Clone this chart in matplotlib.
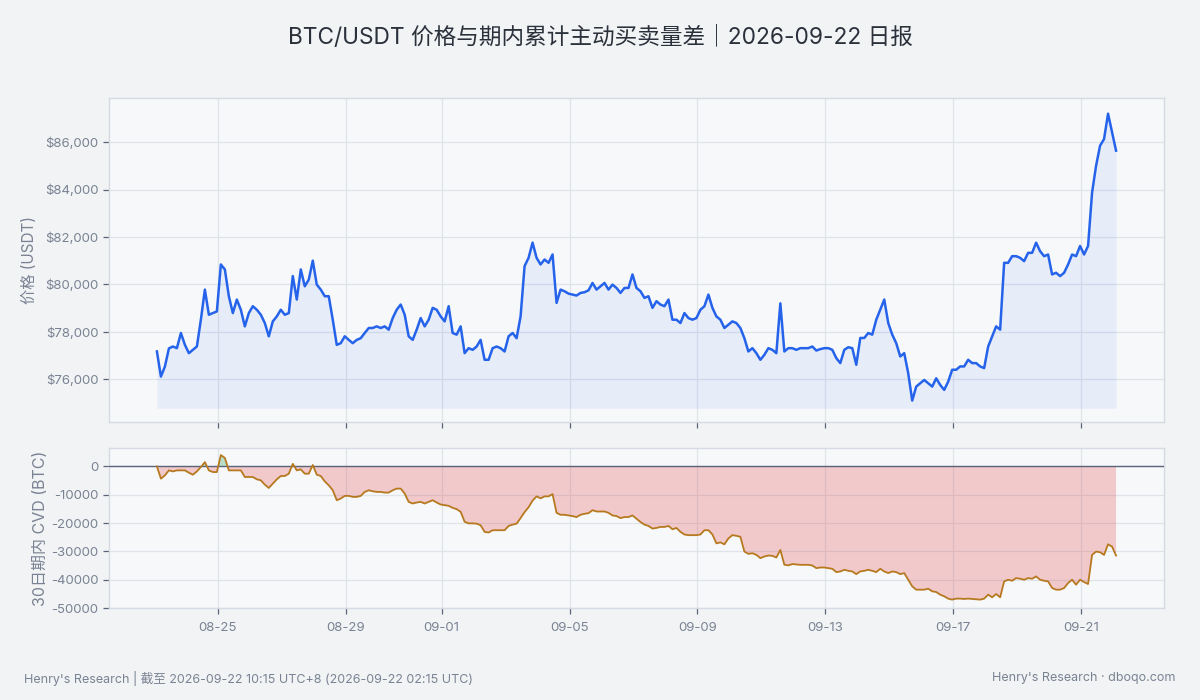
import numpy as np
import pandas as pd
import matplotlib
matplotlib.use("Agg")
import matplotlib.pyplot as plt
import matplotlib.dates as mdates
from matplotlib.ticker import FuncFormatter, FixedLocator

plt.rcParams['font.family'] = ['Inter', 'Noto Sans CJK SC', 'DejaVu Sans']
plt.rcParams['axes.unicode_minus'] = False

# ---------------- data (3-hour samples) ----------------
start_time = "2026-08-23 02:15"
step_hours = 3

price = [
    77171, 76113, 76536, 77300, 77380, 77310, 77950, 77450, 77100, 77240,
    77380, 78510, 79780, 78720, 78790, 78860, 80840, 80630, 79500, 78790,
    79360, 78930, 78230, 78790, 79080, 78930, 78720, 78370, 77810, 78440,
    78650, 78930, 78720, 78790, 80350, 79360, 80630, 79920, 80200, 81000,
    79990, 79780, 79500, 79500, 78510, 77450, 77520, 77810, 77660, 77520,
    77660, 77730, 77950, 78160, 78160, 78230, 78160, 78230, 78090, 78580,
    78930, 79150, 78720, 77810, 77660, 78090, 78580, 78230, 78510, 79010,
    78930, 78650, 78440, 79080, 77950, 77880, 78230, 77100, 77310, 77240,
    77380, 77660, 76820, 76820, 77310, 77380, 77310, 77170, 77810, 77950,
    77730, 78650, 80770, 81120, 81760, 81120, 80840, 81050, 80910, 81260,
    79220, 79780, 79710, 79610, 79570, 79530, 79640, 79670, 79750, 80060,
    79780, 79920, 80060, 79780, 79990, 79850, 79640, 79850, 79850, 80420,
    79850, 79710, 79430, 79500, 79010, 79290, 79150, 79080, 79360, 78510,
    78510, 78370, 78790, 78580, 78510, 78580, 78930, 79080, 79570, 79010,
    78650, 78510, 78160, 78300, 78440, 78370, 78160, 77730, 77170, 77310,
    77100, 76820, 77030, 77310, 77240, 77100, 79200, 77170, 77310, 77310,
    77240, 77310, 77310, 77310, 77380, 77210, 77270, 77310, 77310, 77240,
    76890, 76680, 77240, 77350, 77310, 76610, 77740, 77740, 77950, 77880,
    78510, 78930, 79360, 78370, 77880, 77520, 76960, 77100, 76250, 75100,
    75690, 75830, 75970, 75830, 75690, 76040, 75760, 75550, 75900, 76400,
    76400, 76540, 76540, 76820, 76680, 76680, 76540, 76470, 77380, 77810,
    78230, 78090, 80910, 80910, 81190, 81190, 81120, 80980, 81330, 81330,
    81760, 81400, 81190, 81260, 80420, 80490, 80350, 80490, 80840, 81260,
    81190, 81620, 81260, 81620, 83870, 85000, 85850, 86130, 87200, 86410,
    85640,
]

cvd = [
    0, -4330, -3160, -1400, -1760, -1400, -1400, -1400, -2220, -2930,
    -1760, -230, 1500, -1400, -1990, -1990, 4000, 3000, -1400, -1400,
    -1400, -1400, -3740, -3740, -3740, -4560, -4910, -6440, -7600, -6080,
    -4560, -3390, -3390, -2570, 900, -1400, -1050, -2570, -2570, 500,
    -2930, -3390, -5270, -6670, -8420, -11930, -11350, -10410, -10410, -10760,
    -10760, -10410, -9010, -8420, -8780, -9010, -9010, -9240, -9240, -8420,
    -7840, -7840, -9590, -12520, -13100, -12750, -12520, -13100, -12520, -11930,
    -12750, -13450, -13690, -13920, -14630, -15090, -16030, -19540, -20120, -20120,
    -20210, -20790, -23110, -23340, -22530, -22530, -22530, -22530, -21020, -20560,
    -20210, -18240, -16150, -14410, -12090, -10580, -11280, -10580, -10580, -9770,
    -16380, -17080, -17080, -17310, -17540, -17890, -17080, -16730, -16500, -15450,
    -15920, -15920, -15920, -16380, -17310, -17540, -18240, -17890, -17890, -17310,
    -18470, -19630, -20560, -21020, -21950, -21720, -21370, -21370, -21020, -22180,
    -21720, -23110, -24040, -24270, -24270, -24270, -24040, -22530, -22530, -24040,
    -27170, -26820, -27520, -25430, -24270, -24500, -24850, -30070, -30880, -30650,
    -31230, -32390, -31810, -31460, -31580, -32160, -29500, -34710, -34940, -34480,
    -34600, -34750, -34750, -34750, -34980, -35920, -35690, -35690, -35920, -36150,
    -37320, -37090, -36500, -36860, -37090, -38030, -37090, -36860, -36500, -36860,
    -37320, -36150, -37090, -37670, -37090, -37320, -38030, -37670, -40010, -42350,
    -43520, -43520, -43520, -43170, -44110, -44340, -45280, -45860, -46680, -47030,
    -46680, -46680, -46800, -46680, -46800, -46920, -47030, -46680, -45280, -46220,
    -45050, -46220, -40600, -40010, -40370, -39430, -39660, -40010, -39430, -39660,
    -38840, -40010, -40370, -40600, -42940, -43520, -43520, -42940, -41180, -40010,
    -41770, -40010, -40830, -41530, -31240, -30070, -30300, -31240, -27500, -28310,
    -31470,
]

price_ticks = [76000, 78000, 80000, 82000, 84000, 86000]
cvd_ticks = [0, -10000, -20000, -30000, -40000, -50000]

title = "BTC/USDT 价格与期内累计主动买卖量差｜2026-09-22 日报"
price_label = "价格 (USDT)"
cvd_label = "30日期内 CVD (BTC)"
footer_left = "Henry's Research | 截至 2026-09-22 10:15 UTC+8 (2026-09-22 02:15 UTC)"
footer_right = "Henry's Research · dboqo.com"

# ---------------- styling ----------------
FIG_BG = "#f1f3f5"
AX_BG = "#f7f8fa"
GRID = "#dfe3ea"
SPINE = "#d6dbe3"
TEXT = "#2b313b"
MUTED = "#7a8393"
BLUE = "#2563eb"
CVD_LINE = "#b7791f"
ZERO = "#5b6478"

times = pd.date_range(start=start_time, periods=len(price), freq=f"{step_hours}h")
price = np.array(price, dtype=float)
cvd = np.array(cvd, dtype=float)

fig = plt.figure(figsize=(12, 7), dpi=100, facecolor=FIG_BG)
ax1 = fig.add_axes([0.0908, 0.3968, 0.8792, 0.4630])
ax2 = fig.add_axes([0.0908, 0.1314, 0.8792, 0.2286])

pad = pd.Timedelta(hours=36)
xlim = (times[0] - pad, times[-1] + pad)

for ax in (ax1, ax2):
    ax.set_facecolor(AX_BG)
    for s in ax.spines.values():
        s.set_color(SPINE)
        s.set_linewidth(1.0)
    ax.grid(True, color=GRID, linewidth=0.9)
    ax.set_axisbelow(True)
    ax.tick_params(axis='both', colors=ZERO, labelcolor=MUTED, labelsize=9.5,
                   length=4, width=0.9)
    ax.xaxis.set_major_locator(mdates.DayLocator(bymonthday=[1, 5, 9, 13, 17, 21, 25, 29]))
    ax.xaxis.set_major_formatter(mdates.DateFormatter('%m-%d'))
    ax.set_xlim(*xlim)

# price panel
base = 74777
ax1.fill_between(times, price, base, color=BLUE, alpha=0.08, linewidth=0)
ax1.plot(times, price, color=BLUE, linewidth=1.8)
ax1.set_ylim(74186, 87855)
ax1.yaxis.set_major_locator(FixedLocator(price_ticks))
ax1.yaxis.set_major_formatter(FuncFormatter(lambda v, p: f"${v:,.0f}"))
ax1.tick_params(axis='x', labelbottom=False)
ax1.set_ylabel(price_label, color=MUTED, fontsize=11, labelpad=6)

# CVD panel
ax2.fill_between(times, cvd, 0, where=cvd < 0, interpolate=True,
                 color="#dc2626", alpha=0.22, linewidth=0)
ax2.fill_between(times, cvd, 0, where=cvd > 0, interpolate=True,
                 color="#16a34a", alpha=0.28, linewidth=0)
ax2.axhline(0, color=ZERO, linewidth=1.0, zorder=3)
ax2.plot(times, cvd, color=CVD_LINE, linewidth=1.3, zorder=4)
ax2.set_ylim(-50000, 6500)
ax2.yaxis.set_major_locator(FixedLocator(cvd_ticks))
ax2.yaxis.set_major_formatter(FuncFormatter(lambda v, p: f"{v:.0f}"))
ax2.set_ylabel(cvd_label, color=MUTED, fontsize=11.5, labelpad=2)
ax2.tick_params(axis='x', pad=6)

fig.text(0.5, 0.946, title, ha='center', va='center', fontsize=16.3, color=TEXT)
fig.text(0.02, 0.031, footer_left, ha='left', va='center', fontsize=9, color=MUTED)
fig.text(0.98, 0.031, footer_right, ha='right', va='center', fontsize=9, color=MUTED)

fig.savefig("out.png", dpi=100, facecolor=FIG_BG)
